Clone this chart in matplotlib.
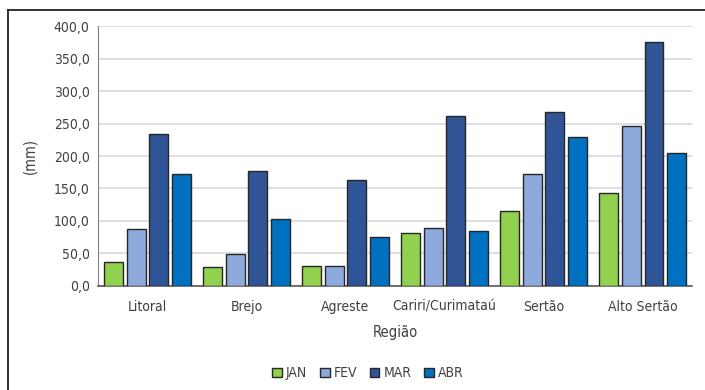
import matplotlib
matplotlib.use("Agg")
import matplotlib.pyplot as plt
import numpy as np
from matplotlib.lines import Line2D
from matplotlib.ticker import FuncFormatter

regioes = ["Litoral", "Brejo", "Agreste", "Cariri/Curimataú", "Sertão", "Alto Sertão"]
meses = ["JAN", "FEV", "MAR", "ABR"]
jan = [37.4, 28.7, 30.3, 81.0, 115.4, 143.6]
fev = [87.7, 49.7, 30.0, 89.7, 171.8, 246.0]
mar = [234.3, 176.9, 162.6, 262.0, 267.2, 375.4]
abr = [171.8, 103.0, 75.4, 84.0, 229.2, 204.0]
cores = ["#92D050", "#8EA9DB", "#2F5597", "#0070C0"]

plt.rcParams["font.family"] = ["DejaVu Sans"]
plt.rcParams["font.stretch"] = "condensed"
txt = "#404040"

fig = plt.figure(figsize=(7.05, 3.9), dpi=100)
ax = fig.add_axes([0.139, 0.2667, 0.8426, 0.6666])

x = np.arange(len(regioes))
step = 0.23
width = 0.19
for i, (serie, cor, mes) in enumerate(zip([jan, fev, mar, abr], cores, meses)):
    ax.bar(x + (i - 1.5) * step, serie, width, color=cor, edgecolor="#262626",
           linewidth=1.0, label=mes, zorder=3)

ax.set_xlim(-0.5, len(regioes) - 0.5)
ax.set_ylim(0, 400)
ax.set_yticks(np.arange(0, 401, 50))
ax.yaxis.set_major_formatter(FuncFormatter(lambda v, p: f"{v:.1f}".replace(".", ",")))
ax.grid(axis="y", color="#D9D9D9", linewidth=1.2, zorder=0)
ax.set_xticks(x)
ax.set_xticklabels(regioes)
ax.tick_params(axis="both", length=0, labelsize=10, colors=txt, pad=6)
ax.tick_params(axis="x", pad=10)
for s in ["top", "right"]:
    ax.spines[s].set_visible(False)
ax.spines["left"].set_color("#808080")
ax.spines["bottom"].set_color("#595959")
ax.spines["bottom"].set_linewidth(1.2)

ax.set_xlabel("Região", fontsize=10.5, color=txt, labelpad=8)
ax.set_ylabel("(mm)", fontsize=10.5, color=txt, labelpad=12)

ax.legend(loc="center", bbox_to_anchor=(0.522, 0.043), bbox_transform=fig.transFigure,
          ncol=4, frameon=False, fontsize=10, labelcolor=txt, handlelength=0.7,
          handleheight=0.7, handletextpad=0.3, columnspacing=0.9,
          borderpad=0.2)

# moldura
fig.add_artist(Line2D([8 / 705, 1], [1 - 10 / 390, 1 - 10 / 390], color="#222222", linewidth=1.3))
fig.add_artist(Line2D([8 / 705, 8 / 705], [0, 1 - 10 / 390], color="#222222", linewidth=1.3))

fig.savefig("out.png", dpi=100)
plt.close(fig)
